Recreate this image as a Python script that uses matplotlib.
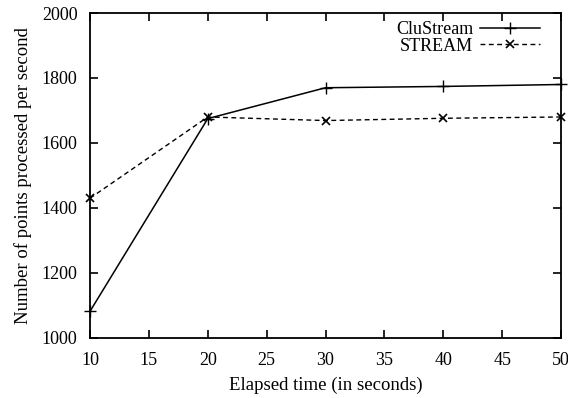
import matplotlib
matplotlib.use("Agg")
import matplotlib.pyplot as plt

# data
time_s = [10, 20, 30, 40, 50]
clustream = [1082, 1675, 1770, 1774, 1780]
stream = [1430, 1680, 1669, 1676, 1680]

plt.rcParams['font.family'] = ['Liberation Serif', 'DejaVu Serif']
plt.rcParams['font.size'] = 13.5

fig = plt.figure(figsize=(5.68, 3.98), dpi=100)
ax = fig.add_axes([0.1585, 0.151, 0.8292, 0.8163])

ax.plot(time_s, clustream, color='black', lw=1.1, marker='+', ms=8, mew=1,
        label='CluStream', clip_on=False)
ax.plot(time_s, stream, color='black', lw=1.0, ls=(0, (3.5, 2.5)), marker='x', ms=6, mew=1.2,
        label='STREAM', clip_on=False)

ax.set_xlim(10, 50)
ax.set_ylim(1000, 2000)
ax.set_xticks(range(10, 51, 5))
ax.set_yticks(range(1000, 2001, 200))
ax.tick_params(direction='in', top=True, right=True, length=6, width=1.2, labelsize=13)
ax.tick_params(axis='x', pad=10)
ax.tick_params(axis='y', pad=9)
for s in ax.spines.values():
    s.set_linewidth(1.3)

ax.set_xlabel('Elapsed time (in seconds)', fontsize=13.5, labelpad=6)
ax.set_ylabel('Number of points processed per second', fontsize=13.5, labelpad=7)

ax.legend(loc='upper right', frameon=False, markerfirst=False, handlelength=3.3,
          fontsize=13, bbox_to_anchor=(0.955, 0.974), borderaxespad=0,
          borderpad=0, labelspacing=-0.05, handletextpad=0.4)

fig.savefig('out.png', dpi=100)
